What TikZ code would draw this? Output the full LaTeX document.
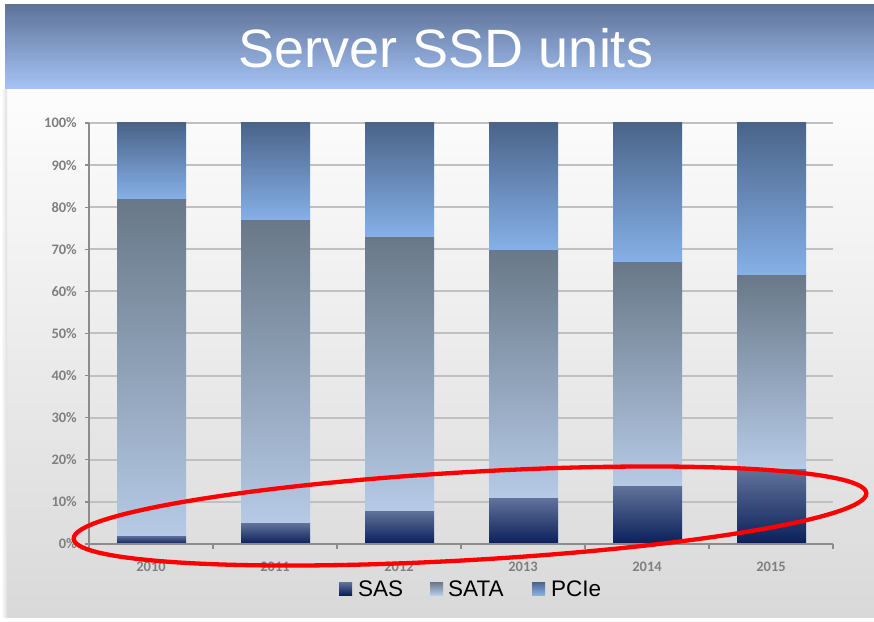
\documentclass[tikz,border=0pt]{standalone}
\usepackage{fontspec}
\setmainfont{Liberation Sans}
\newfontfamily\axfont{Carlito}
\definecolor{banTop}{HTML}{5F7399}
\definecolor{banBot}{HTML}{A7C5F7}
\definecolor{panTop}{HTML}{FDFDFD}
\definecolor{panBot}{HTML}{D9D9D9}
\definecolor{gridc}{HTML}{C0C0C0}
\definecolor{axisc}{HTML}{8C8C8C}
\definecolor{labc}{HTML}{808080}
\definecolor{sasTop}{HTML}{62749A}
\definecolor{sasMid}{HTML}{4A6388}
\definecolor{sasBot}{HTML}{0A1F5A}
\definecolor{sataTop}{HTML}{687888}
\definecolor{sataMid}{HTML}{96AACA}
\definecolor{sataBot}{HTML}{B6CAE6}
\definecolor{pcieTop}{HTML}{4A6488}
\definecolor{pcieBot}{HTML}{86B0E8}
\tikzset{
  sasshade/.style={top color=sasTop, middle color=sasMid, bottom color=sasBot},
  satashade/.style={top color=sataTop, middle color=sataMid, bottom color=sataBot},
  pcieshade/.style={top color=pcieTop, bottom color=pcieBot},
  gridline/.style={draw=gridc, line width=2pt},
  axisline/.style={draw=axisc, line width=1.2pt},
  ylab/.style={anchor=east, inner sep=0pt, text=labc, font=\axfont\bfseries\fontsize{14.5}{14.5}\selectfont},
  xlab/.style={anchor=center, inner sep=0pt, text=labc, font=\axfont\bfseries\fontsize{14.5}{14.5}\selectfont},
  legtext/.style={anchor=base west, inner sep=0pt, text=black, font=\fontsize{22.5}{22.5}\selectfont},
  titletext/.style={anchor=base, inner sep=0pt, text=white, font=\fontsize{54}{54}\selectfont},
  redring/.style={draw=red, line width=4.3pt}
}
\begin{document}
\begin{tikzpicture}[x=1pt,y=1pt]
\useasboundingbox (0,0) rectangle (874,621);
\fill[white] (0,0) rectangle (874,621);
% banner
\shade[top color=banTop, bottom color=banBot] (5,616) rectangle (874,531);
\node[titletext] (title) at (446,553) {Server SSD units};
% panel
\shade[top color=panTop, bottom color=panBot] (7,531) rectangle (874,4);
\shade[left color=white, right color=panBot!85] (1,531) rectangle (7,4);
% chart
\begin{scope}[shift={(89pt,77pt)}, x=1pt, y=4.21pt]
  \foreach \v in {10,20,...,100} {
    \draw[gridline] (0,\v) -- (744,\v);
  }
  \foreach \i/\sas/\sata/\yr in {0/2/82/2010,1/5/77/2011,2/8/73/2012,3/11/70/2013,4/14/67/2014,5/18/64/2015} {
    \pgfmathsetmacro{\xa}{124*\i+28}
    \pgfmathsetmacro{\xb}{124*\i+97}
    \pgfmathsetmacro{\xc}{124*\i+62}
    \shade[sasshade] (\xa,0) rectangle (\xb,\sas);
    \shade[satashade] (\xa,\sas) rectangle (\xb,\sata);
    \shade[pcieshade] (\xa,\sata) rectangle (\xb,100);
    \node[xlab] (yr\yr) at (\xc,-5.3) {\yr};
  }
  \draw[axisline] (0,0) -- (0,100);
  \draw[axisline] (0,0) -- (744,0);
  \foreach \v in {0,10,...,100} {
    \draw[axisline] (-4,\v) -- (0,\v);
    \node[ylab] (yl\v) at (-12,\v) {\v\%};
  }
  \foreach \k in {0,...,6} {
    \draw[axisline] (124*\k,0) -- (124*\k,-1.2);
  }
\end{scope}
% legend
\shade[sasshade] (339,26) rectangle (352,39);
\node[legtext] (lsas) at (358,25) {SAS};
\shade[satashade] (430,26) rectangle (443,39);
\node[legtext] (lsata) at (448,25) {SATA};
\shade[pcieshade] (532,26) rectangle (545,39);
\node[legtext] (lpcie) at (551,25) {PCIe};
% red ellipse
\draw[redring, rotate around={3.3:(470,105)}] (470,105) ellipse (397 and 44);
\end{tikzpicture}
\end{document}
